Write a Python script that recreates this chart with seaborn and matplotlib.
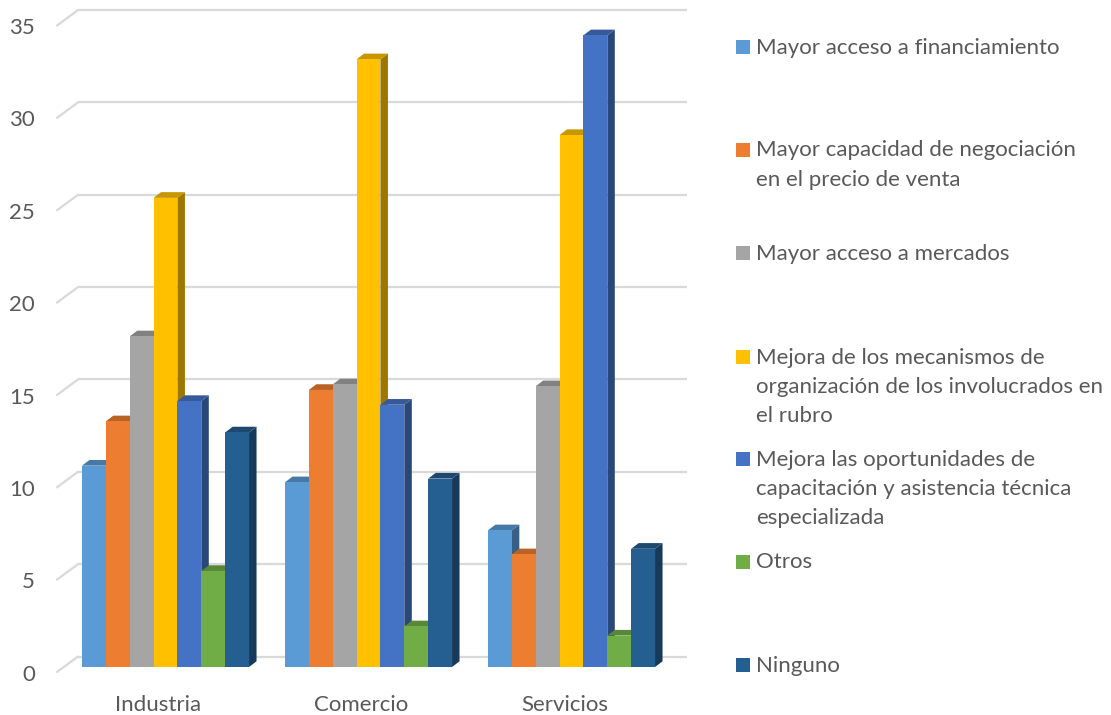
import pandas as pd
import matplotlib.pyplot as plt
import matplotlib.colors as mcolors
from matplotlib.patches import Polygon, Rectangle
from matplotlib.transforms import ScaledTranslation
import seaborn as sns

sectores = ['Industria', 'Comercio', 'Servicios']
series = ['Mayor acceso a financiamiento',
          'Mayor capacidad de negociación\nen el precio de venta',
          'Mayor acceso a mercados',
          'Mejora de los mecanismos de\norganización de los involucrados en\nel rubro',
          'Mejora las oportunidades de\ncapacitación y asistencia técnica\nespecializada',
          'Otros',
          'Ninguno']
financiamiento = [10.9, 10.0, 7.4]
negociacion = [13.3, 15.0, 6.1]
mercados = [17.9, 15.3, 15.2]
mecanismos = [25.4, 32.9, 28.8]
capacitacion = [14.4, 14.2, 34.2]
otros = [5.2, 2.2, 1.7]
ninguno = [12.7, 10.2, 6.4]
valores = [financiamiento, negociacion, mercados, mecanismos, capacitacion, otros, ninguno]
colores = ['#5B9BD5', '#ED7D31', '#A5A5A5', '#FFC000', '#4472C4', '#70AD47', '#255E91']
y_ticks = [0, 5, 10, 15, 20, 25, 30, 35]

W, H = 1111, 715
# escala en pixeles del grafico original
PX_CAT = 203.0
PX_VAL = 18.47
X0 = 165.5
BASE = 667.0

sns.set_theme(style='white')
plt.rcParams['font.family'] = ['Lato', 'DejaVu Sans']
gris = '#595959'
FS = 16

filas = []
for nombre, vals in zip(series, valores):
    for sector, v in zip(sectores, vals):
        filas.append({'sector': sector, 'serie': nombre, 'valor': v})
df = pd.DataFrame(filas)

fig = plt.figure(figsize=(W / 100, H / 100), dpi=100)
ax = fig.add_axes([57 / W, 1 - BASE / H, (687 - 57) / W, (BASE - 3) / H])
sns.barplot(data=df, x='sector', y='valor', hue='serie', hue_order=series, palette=colores,
            order=sectores, width=0.823, gap=0, saturation=1, legend=False, ax=ax)
ax.set_xlim((57 - X0) / PX_CAT, (687 - X0) / PX_CAT)
ax.set_ylim(0, (BASE - 3) / PX_VAL)
sns.despine(ax=ax, left=True, bottom=True, top=True, right=True)
ax.set_xlabel('')
ax.set_ylabel('')


def px_x(px):
    return (px - X0) / PX_CAT


# pared del fondo: rejilla desplazada y diagonal
sube = 10.5 / PX_VAL
baja = 5.0 / PX_VAL
for v in y_ticks:
    ax.plot([px_x(78), px_x(687)], [v + sube, v + sube], color='#D9D9D9', lw=1.6,
            clip_on=False, zorder=1, solid_capstyle='butt')
    ax.plot([px_x(57), px_x(78)], [v - baja, v + sube], color='#D9D9D9', lw=1.6,
            clip_on=False, zorder=1)

# caras laterales y superiores de las barras 3D
dx = 7.5 / PX_CAT
dy = 5.7 / PX_VAL
for i, cont in enumerate(ax.containers):
    base_color = mcolors.to_rgb(colores[i])
    lado = tuple(c * 0.62 for c in base_color)
    tapa = tuple(c * 0.78 for c in base_color)
    for bar in cont:
        bar.set_zorder(3 + 2 * i)
        bar.set_linewidth(0)
        x0 = bar.get_x()
        x1 = x0 + bar.get_width()
        h = bar.get_height()
        ax.add_patch(Polygon([(x1, 0), (x1 + dx, dy), (x1 + dx, h + dy), (x1, h)],
                             closed=True, fc=lado, ec='none', zorder=2 + 2 * i, clip_on=False))
        ax.add_patch(Polygon([(x0, h), (x1, h), (x1 + dx, h + dy), (x0 + dx, h + dy)],
                             closed=True, fc=tapa, ec='none', zorder=2 + 2 * i, clip_on=False))

ax.set_yticks(y_ticks)
ax.tick_params(axis='both', length=0, labelsize=FS, labelcolor=gris)
ax.tick_params(axis='y', pad=16)
ax.tick_params(axis='x', pad=20)
bajar = ScaledTranslation(0, -4 / 72, fig.dpi_scale_trans)
for lab in ax.get_yticklabels():
    lab.set_transform(lab.get_transform() + bajar)
# las etiquetas de categoria quedan algo a la izquierda de las barras
izq = ScaledTranslation(-7 / 100, 0, fig.dpi_scale_trans)
for lab in ax.get_xticklabels():
    lab.set_transform(lab.get_transform() + izq)

# leyenda a mano, las entradas van a distancia fija y con varias lineas
leg_y = [47, 150, 253, 357, 459, 562, 665]
for nombre, color, y in zip(series, colores, leg_y):
    fig.add_artist(Rectangle((736 / W, 1 - (y + 7) / H), 14 / W, 14 / H, fc=color, ec='none',
                             transform=fig.transFigure))
    fig.text(756 / W, 1 - (y - 9.5) / H, nombre, fontsize=FS, color=gris, va='top', ha='left',
             linespacing=1.58)

fig.savefig('out.png', dpi=100)
